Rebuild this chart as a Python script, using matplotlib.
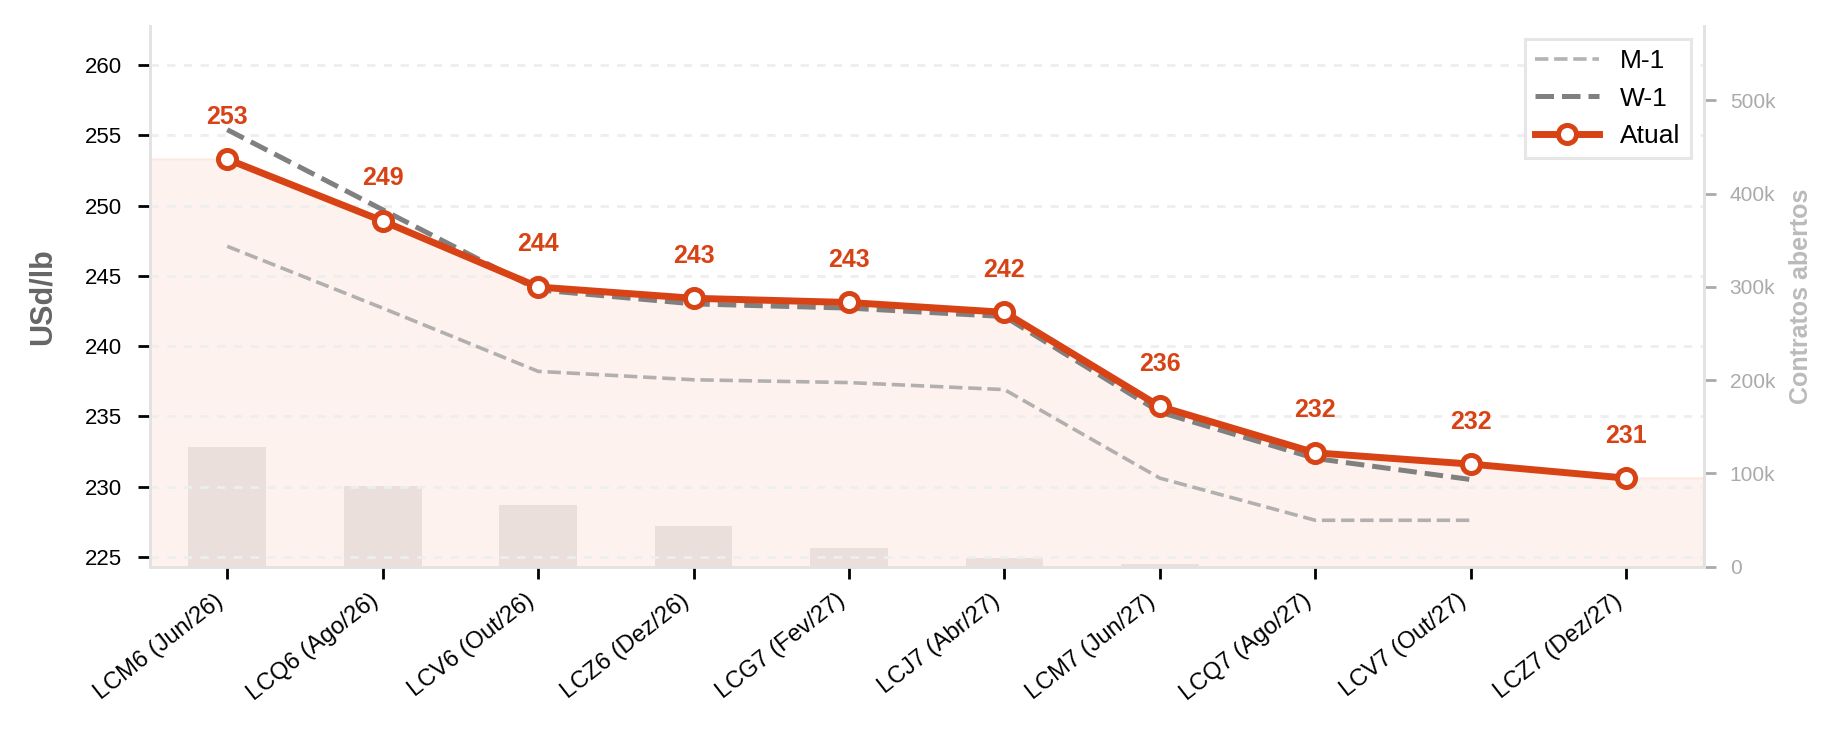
import matplotlib
matplotlib.use("Agg")
import matplotlib.pyplot as plt
from matplotlib.ticker import FuncFormatter

plt.rcParams['font.family'] = ['Liberation Sans', 'DejaVu Sans']

contracts = ['LCM6 (Jun/26)', 'LCQ6 (Ago/26)', 'LCV6 (Out/26)', 'LCZ6 (Dez/26)',
             'LCG7 (Fev/27)', 'LCJ7 (Abr/27)', 'LCM7 (Jun/27)', 'LCQ7 (Ago/27)',
             'LCV7 (Out/27)', 'LCZ7 (Dez/27)']
atual = [253.3, 248.9, 244.2, 243.4, 243.1, 242.4, 235.7, 232.4, 231.6, 230.6]
w_1 = [255.4, 249.7, 244.0, 243.0, 242.7, 242.1, 235.3, 232.0, 230.5, None]
m_1 = [247.1, 242.7, 238.2, 237.6, 237.4, 236.9, 230.6, 227.6, 227.6, None]
open_interest = [128000, 86000, 66000, 44000, 20000, 9000, 3000, 0, 0, 0]

ORANGE = '#D84315'
x = list(range(len(contracts)))

fig = plt.figure(figsize=(9.23, 3.67), dpi=200)
ax = fig.add_axes([0.081, 0.228, 0.842, 0.737])
ax2 = ax.twinx()
ax.set_zorder(ax2.get_zorder() + 1)
ax.patch.set_visible(False)

# open interest bars on the secondary axis
ax2.bar(x, open_interest, width=0.5, color='#ecebeb', zorder=1)
ax2.set_ylim(0, 580000)
ax2.set_yticks([0, 100000, 200000, 300000, 400000, 500000])
ax2.yaxis.set_major_formatter(FuncFormatter(lambda v, p: '0' if v == 0 else f'{int(v / 1000)}k'))
ax2.tick_params(axis='y', colors='#aaaaaa', labelsize=7.5, length=4.3, width=1, pad=5)
ax2.set_ylabel('Contratos abertos', color='#bbbbbb', fontsize=9, fontweight='bold', labelpad=5)

# shaded area under the current curve, held flat to the edges
xs = [-0.5] + x + [len(x) - 0.5]
ys = [atual[0]] + atual + [atual[-1]]
ax.fill_between(xs, ys, 200, color='#E64A19', alpha=0.07, lw=0.8, zorder=1)

xm = [i for i, v in enumerate(m_1) if v is not None]
ax.plot(xm, [m_1[i] for i in xm], color='#a0a0a0', lw=1.3, ls='--', alpha=0.8, label='M-1', zorder=2)
xw = [i for i, v in enumerate(w_1) if v is not None]
ax.plot(xw, [w_1[i] for i in xw], color='#808080', lw=1.8, ls='--', label='W-1', zorder=3)
ax.plot(x, atual, color=ORANGE, lw=2.5, marker='o', ms=6.5, mfc='white', mec=ORANGE,
        mew=1.8, label='Atual', zorder=4)

for xi, v in zip(x, atual):
    ax.annotate(f'{v:.0f}', (xi, v), xytext=(0, 11), textcoords='offset points',
                ha='center', va='bottom', color=ORANGE, fontsize=9, fontweight='bold')

ax.set_xlim(-0.5, 9.5)
ax.set_ylim(224.3, 262.8)
ax.set_yticks([225, 230, 235, 240, 245, 250, 255, 260])
ax.set_xticks(x)
ax.set_xticklabels(contracts, rotation=38, ha='right', fontsize=8.5)
ax.tick_params(axis='y', labelsize=8, length=4.3, width=1, pad=5.5)
ax.tick_params(axis='x', length=4.3, width=1, pad=4)
ax.set_ylabel('USd/lb', color='#666666', fontsize=11, fontweight='bold', labelpad=10)
ax.grid(axis='y', color='#eeeeee', ls=(0, (3, 3)), lw=1)

for a in (ax, ax2):
    a.spines['top'].set_visible(False)
    for s in ('left', 'bottom', 'right'):
        a.spines[s].set_color('#e3e3e3')
        a.spines[s].set_linewidth(1)

leg = ax.legend(loc='upper right', fontsize=9.5, fancybox=False, framealpha=1,
                edgecolor='#e6e6e6', handlelength=2.4)
leg.get_frame().set_linewidth(1.1)

fig.savefig('out.png', dpi=200)
